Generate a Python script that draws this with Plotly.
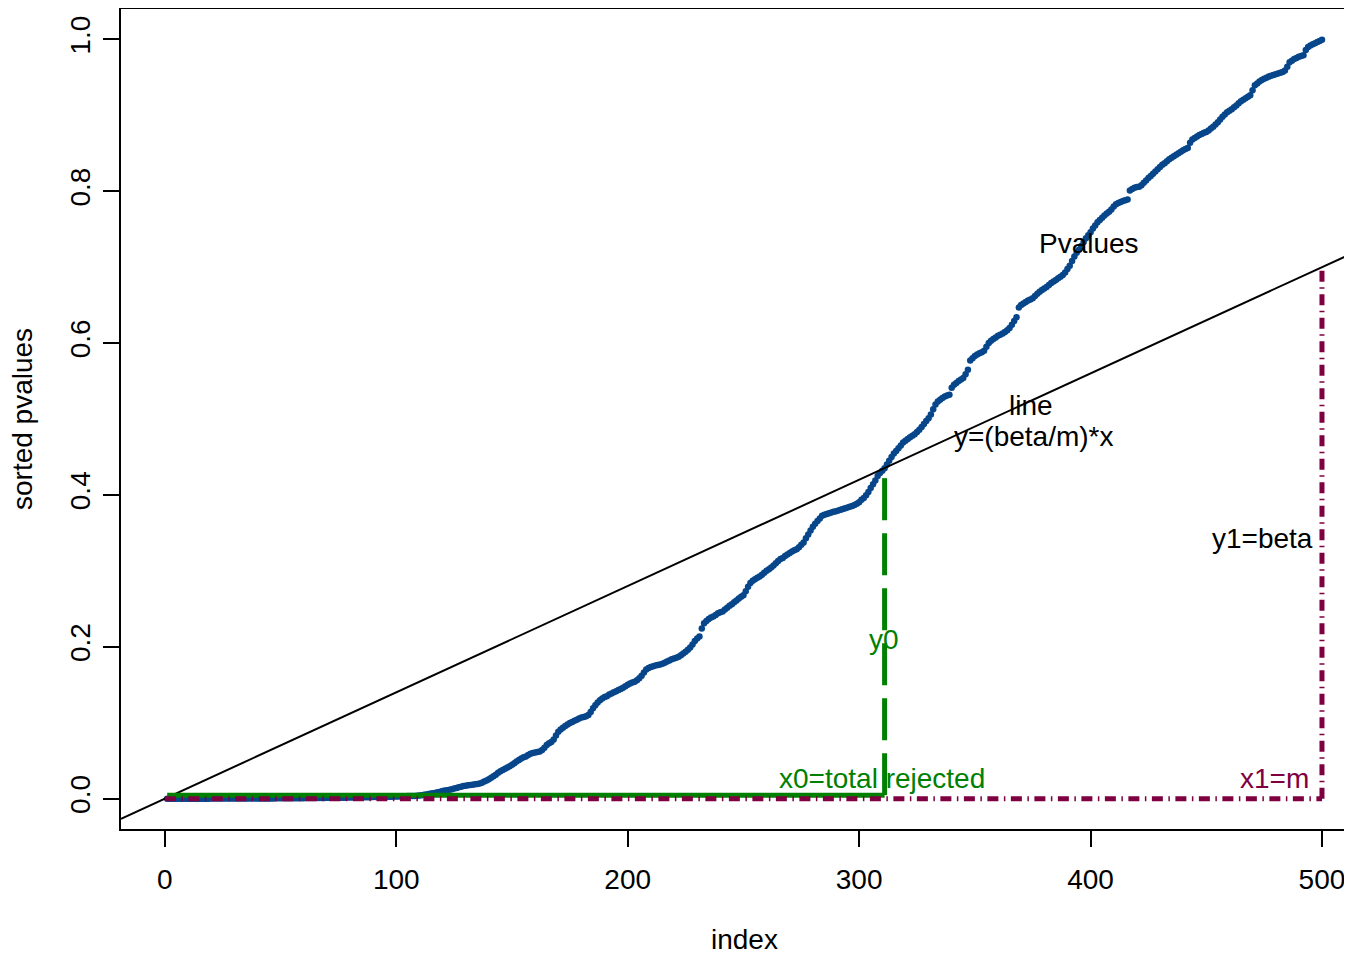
import plotly.graph_objects as go

# ---------------- data ----------------
pvalues = [
    0.0000, 0.0000, 0.0000, 0.0000, 0.0000, 0.0000, 0.0000, 0.0000, 0.0000, 0.0000,
    0.0000, 0.0000, 0.0000, 0.0000, 0.0000, 0.0000, 0.0000, 0.0000, 0.0000, 0.0001,
    0.0001, 0.0001, 0.0001, 0.0001, 0.0001, 0.0001, 0.0001, 0.0001, 0.0001, 0.0001,
    0.0001, 0.0001, 0.0001, 0.0002, 0.0002, 0.0002, 0.0002, 0.0002, 0.0002, 0.0002,
    0.0002, 0.0003, 0.0003, 0.0003, 0.0003, 0.0003, 0.0003, 0.0004, 0.0004, 0.0004,
    0.0004, 0.0004, 0.0005, 0.0005, 0.0005, 0.0005, 0.0006, 0.0006, 0.0006, 0.0006,
    0.0007, 0.0007, 0.0007, 0.0008, 0.0008, 0.0008, 0.0009, 0.0009, 0.0009, 0.0010,
    0.0010, 0.0011, 0.0011, 0.0011, 0.0012, 0.0012, 0.0013, 0.0013, 0.0014, 0.0014,
    0.0015, 0.0015, 0.0016, 0.0016, 0.0017, 0.0017, 0.0018, 0.0019, 0.0019, 0.0020,
    0.0021, 0.0021, 0.0022, 0.0023, 0.0024, 0.0024, 0.0025, 0.0026, 0.0027, 0.0028,
    0.0029, 0.0030, 0.0031, 0.0032, 0.0033, 0.0034, 0.0035, 0.0036, 0.0038, 0.0040,
    0.0045, 0.0050, 0.0055, 0.0060, 0.0066, 0.0072, 0.0078, 0.0085, 0.0092, 0.0100,
    0.0106, 0.0112, 0.0118, 0.0125, 0.0132, 0.0140, 0.0150, 0.0158, 0.0165, 0.0171,
    0.0176, 0.0180, 0.0184, 0.0188, 0.0192, 0.0198, 0.0210, 0.0225, 0.0240, 0.0255,
    0.0275, 0.0295, 0.0315, 0.0340, 0.0360, 0.0378, 0.0395, 0.0410, 0.0425, 0.0445,
    0.0465, 0.0490, 0.0510, 0.0530, 0.0545, 0.0555, 0.0575, 0.0590, 0.0600, 0.0608,
    0.0615, 0.0620, 0.0640, 0.0670, 0.0705, 0.0730, 0.0745, 0.0780, 0.0830, 0.0880,
    0.0910, 0.0935, 0.0955, 0.0975, 0.0995, 0.1010, 0.1025, 0.1040, 0.1055, 0.1068,
    0.1075, 0.1085, 0.1100, 0.1140, 0.1190, 0.1230, 0.1265, 0.1295, 0.1320, 0.1340,
    0.1350, 0.1370, 0.1385, 0.1400, 0.1415, 0.1430, 0.1445, 0.1460, 0.1480, 0.1500,
    0.1515, 0.1530, 0.1540, 0.1560, 0.1585, 0.1620, 0.1660, 0.1700, 0.1720, 0.1735,
    0.1745, 0.1752, 0.1760, 0.1768, 0.1778, 0.1790, 0.1805, 0.1820, 0.1835, 0.1845,
    0.1855, 0.1870, 0.1890, 0.1910, 0.1935, 0.1960, 0.1990, 0.2030, 0.2075, 0.2110,
    0.2135, 0.2240, 0.2310, 0.2340, 0.2365, 0.2385, 0.2400, 0.2420, 0.2440, 0.2455,
    0.2465, 0.2490, 0.2515, 0.2540, 0.2560, 0.2585, 0.2610, 0.2635, 0.2660, 0.2680,
    0.2730, 0.2790, 0.2840, 0.2870, 0.2890, 0.2910, 0.2925, 0.2950, 0.2975, 0.3000,
    0.3020, 0.3045, 0.3070, 0.3100, 0.3130, 0.3155, 0.3170, 0.3195, 0.3215, 0.3235,
    0.3255, 0.3270, 0.3285, 0.3310, 0.3345, 0.3375, 0.3430, 0.3480, 0.3530, 0.3580,
    0.3620, 0.3655, 0.3690, 0.3725, 0.3740, 0.3750, 0.3760, 0.3770, 0.3778, 0.3785,
    0.3795, 0.3805, 0.3815, 0.3825, 0.3835, 0.3845, 0.3855, 0.3868, 0.3885, 0.3905,
    0.3935, 0.3960, 0.3995, 0.4040, 0.4090, 0.4140, 0.4190, 0.4250, 0.4290, 0.4320,
    0.4350, 0.4400, 0.4450, 0.4500, 0.4545, 0.4580, 0.4615, 0.4650, 0.4690, 0.4715,
    0.4735, 0.4760, 0.4780, 0.4800, 0.4830, 0.4860, 0.4895, 0.4935, 0.4975, 0.5010,
    0.5060, 0.5130, 0.5190, 0.5230, 0.5255, 0.5275, 0.5295, 0.5310, 0.5320, 0.5410,
    0.5450, 0.5475, 0.5500, 0.5520, 0.5540, 0.5590, 0.5650, 0.5770, 0.5800, 0.5830,
    0.5850, 0.5865, 0.5880, 0.5900, 0.5950, 0.6000, 0.6030, 0.6055, 0.6075, 0.6095,
    0.6110, 0.6125, 0.6145, 0.6170, 0.6200, 0.6240, 0.6290, 0.6340, 0.6470, 0.6500,
    0.6520, 0.6540, 0.6560, 0.6575, 0.6590, 0.6620, 0.6650, 0.6675, 0.6700, 0.6720,
    0.6740, 0.6765, 0.6790, 0.6810, 0.6830, 0.6855, 0.6875, 0.6895, 0.6930, 0.6975,
    0.7020, 0.7080, 0.7140, 0.7190, 0.7230, 0.7280, 0.7330, 0.7380, 0.7420, 0.7460,
    0.7510, 0.7550, 0.7590, 0.7620, 0.7650, 0.7680, 0.7705, 0.7730, 0.7760, 0.7800,
    0.7830, 0.7845, 0.7858, 0.7870, 0.7880, 0.7890, 0.8010, 0.8030, 0.8045, 0.8055,
    0.8060, 0.8080, 0.8110, 0.8140, 0.8175, 0.8200, 0.8230, 0.8260, 0.8290, 0.8320,
    0.8350, 0.8370, 0.8395, 0.8420, 0.8440, 0.8460, 0.8480, 0.8500, 0.8520, 0.8540,
    0.8555, 0.8570, 0.8640, 0.8680, 0.8700, 0.8720, 0.8740, 0.8755, 0.8770, 0.8780,
    0.8800, 0.8825, 0.8850, 0.8880, 0.8910, 0.8945, 0.8980, 0.9010, 0.9040, 0.9060,
    0.9080, 0.9105, 0.9130, 0.9160, 0.9185, 0.9205, 0.9225, 0.9245, 0.9265, 0.9330,
    0.9395, 0.9420, 0.9445, 0.9465, 0.9480, 0.9495, 0.9510, 0.9520, 0.9530, 0.9540,
    0.9550, 0.9560, 0.9570, 0.9590, 0.9640, 0.9700, 0.9720, 0.9740, 0.9755, 0.9770,
    0.9780, 0.9790, 0.9860, 0.9900, 0.9920, 0.9935, 0.9950, 0.9965, 0.9980, 0.9995,
]
index = list(range(1, len(pvalues) + 1))

beta = 0.7
m = len(pvalues)
green_base = 0.0046  # level of the green horizontal segment

x_ticks = [0, 100, 200, 300, 400, 500]
y_ticks = [0.0, 0.2, 0.4, 0.6, 0.8, 1.0]

label_texts = ["Pvalues", "line", "y=(beta/m)*x", "y0", "x0=total rejected", "y1=beta", "x1=m"]
label_x = [399.3, 374.2, 375.5, 310.7, 309.8, 474.5, 479.5]
label_y = [0.7316, 0.518, 0.4776, 0.209, 0.0263, 0.342, 0.0263]
label_colors = ["black", "black", "black", "#008000", "#008000", "black", "#7F0040"]

# total rejected (step-up rule) and the corresponding threshold
x0 = max(k for k, p in zip(index, pvalues) if p <= k * beta / m)
y0 = x0 * beta / m

# axis ranges (R style 4% extension; right side cut by the window)
x_range = [-18.96, 512.97]
y_range = [-0.04, 1.04]

FONT = "Liberation Sans, Arial, Helvetica, sans-serif"
BLUE = "#07468A"
GREEN = "#008000"
PURPLE = "#7F0040"

# page offset of the figure inside the browser (default body margin)
OFF = 8
W, H = 1352 - OFF, 955 - OFF
ML, MR, MT, MB = 121 - OFF, 0, 9 - OFF, 126
PW, PH = W - ML - MR, H - MT - MB

fig = go.Figure()

fig.add_trace(go.Scatter(
    x=index, y=pvalues, mode="markers",
    marker=dict(color=BLUE, size=6.5, line=dict(width=0)),
    hoverinfo="skip", showlegend=False))

# abline y = (beta/m) * x across the whole plot
fig.add_trace(go.Scatter(
    x=[x_range[0], x_range[1]],
    y=[x_range[0] * beta / m, x_range[1] * beta / m],
    mode="lines", line=dict(color="black", width=2),
    hoverinfo="skip", showlegend=False))

# green: horizontal solid, vertical long dashed
fig.add_trace(go.Scatter(
    x=[1, x0], y=[green_base, green_base], mode="lines",
    line=dict(color=GREEN, width=5), hoverinfo="skip", showlegend=False))
fig.add_trace(go.Scatter(
    x=[x0, x0], y=[green_base, y0], mode="lines",
    line=dict(color=GREEN, width=5, dash="42px,13px"),
    hoverinfo="skip", showlegend=False))

# purple dot-dash: horizontal at 0 up to m, vertical at m up to beta
fig.add_trace(go.Scatter(
    x=[0, m], y=[0, 0], mode="lines",
    line=dict(color=PURPLE, width=5, dash="11px,5.5px,1.5px,5.5px"),
    hoverinfo="skip", showlegend=False))
fig.add_trace(go.Scatter(
    x=[m, m], y=[0, beta], mode="lines",
    line=dict(color=PURPLE, width=5, dash="11px,5.5px,1.5px,5.5px"),
    hoverinfo="skip", showlegend=False))

annotations = []
for t, xx, yy, c in zip(label_texts, label_x, label_y, label_colors):
    annotations.append(dict(
        x=xx, y=yy, xref="x", yref="y", text=t, showarrow=False,
        xanchor="center", yanchor="middle",
        font=dict(family=FONT, size=28, color=c)))

# axis titles (positions in screen pixels converted to paper coords)
annotations.append(dict(
    x=(x_range[0] + 519.96) / 2, xref="x",
    y=-(939 - (OFF + MT + PH)) / PH, yref="paper", text="index",
    showarrow=False, xanchor="center", yanchor="middle",
    font=dict(family=FONT, size=28, color="black")))
annotations.append(dict(
    x=-((OFF + ML) - 22) / PW, xref="paper", y=0.5, yref="paper",
    text="sorted pvalues", showarrow=False, textangle=-90,
    xanchor="center", yanchor="middle",
    font=dict(family=FONT, size=28, color="black")))

fig.update_layout(
    width=W, height=H,
    margin=dict(l=ML, r=MR, t=MT, b=MB, pad=0),
    paper_bgcolor="white", plot_bgcolor="white",
    font=dict(family=FONT, size=28, color="black"),
    annotations=annotations,
    xaxis=dict(
        range=x_range, tickvals=x_ticks, ticktext=[str(v) for v in x_ticks],
        ticks="outside", ticklen=16, tickwidth=2, tickcolor="black",
        showline=True, linecolor="black", linewidth=2, mirror=True,
        showgrid=False, zeroline=False,
        tickfont=dict(family=FONT, size=28, color="black"),
        ticklabelstandoff=8),
    yaxis=dict(
        range=y_range, tickvals=y_ticks, ticktext=[f"{v:.1f}" for v in y_ticks],
        ticks="outside", ticklen=16, tickwidth=2, tickcolor="black",
        showline=True, linecolor="black", linewidth=2, mirror=False,
        showgrid=False, zeroline=False, tickangle=-90,
        tickfont=dict(family=FONT, size=28, color="black"),
        ticklabelstandoff=2),
)

fig.write_html("out.html")
